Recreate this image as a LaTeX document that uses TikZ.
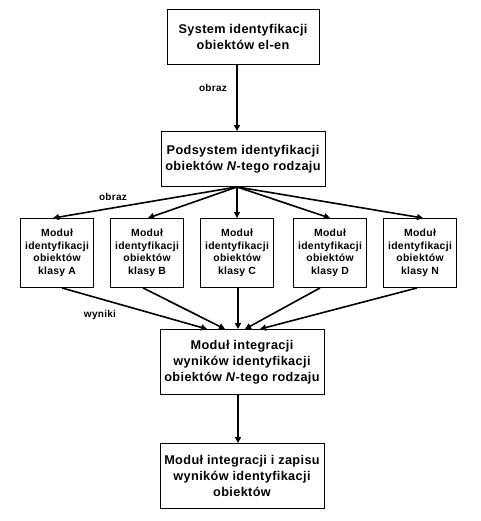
\documentclass[tikz,border=0pt]{standalone}
\usepackage{fontspec}
\setmainfont[LetterSpace=3]{Liberation Sans}
\usetikzlibrary{arrows.meta}
\tikzset{
    bigbox/.style={ % Boxes of the main chain
    draw, line width=0.9pt,
    minimum width=164pt, minimum height=55pt,
    inner sep=0pt, align=center,
    font=\fontsize{12.7}{16}\selectfont\bfseries},
    smallbox/.style={ % Class modules
    draw, line width=0.9pt,
    minimum width=73pt, minimum height=69pt,
    inner sep=0pt, align=center,
    font=\fontsize{10.4}{12.6}\selectfont\bfseries},
    arr/.style={ % Connectors
    line width=1.6pt,
    -{Triangle[length=6pt,width=6pt]}},
    lbl/.style={font=\fontsize{10}{12}\selectfont\bfseries}}

\begin{document}
\begin{tikzpicture}[x=1pt, y=-1pt]
        \useasboundingbox (0,0) rectangle (480,521);

        % Main chain
        \node[bigbox, minimum width=152pt] (sys) at (243,37) {System identyfikacji\\obiektów el-en};
        \node[bigbox] (pod) at (243,159) {Podsystem identyfikacji\\obiektów \textit{N}-tego rodzaju};

        % Class modules
        \foreach \x/\k in {57/A, 147/B, 237/C, 330/D, 420/N} {
                \node[smallbox] (mod\k) at (\x,253) {Moduł\\identyfikacji\\obiektów\\klasy \k};
            }

        \node[bigbox, minimum height=65pt] (integ) at (242,362) {Moduł integracji\\wyników identyfikacji\\obiektów \textit{N}-tego rodzaju};
        \node[bigbox, minimum height=65pt] (zapis) at (242,476) {Moduł integracji i zapisu\\wyników identyfikacji\\obiektów};

        % Connectors
        \draw[arr] ([xshift=-6pt]sys.south) -- ([xshift=-6pt]pod.north);
        \node[lbl] (obraz1) at (213,88) {obraz};

        \draw[arr] ([xshift=-6pt]pod.south) -- ([xshift=-4pt]modA.north);
        \draw[arr] ([xshift=-6pt]pod.south) -- ([xshift=1pt]modB.north);
        \draw[arr] ([xshift=-6pt]pod.south) -- (modC.north);
        \draw[arr] ([xshift=-6pt]pod.south) -- (modD.north);
        \draw[arr] ([xshift=-6pt]pod.south) -- ([xshift=3pt]modN.north);
        \node[lbl] (obraz2) at (113,197) {obraz};

        \draw[arr] ([xshift=5pt]modA.south) -- ([xshift=-35pt]integ.north);
        \draw[arr] ([xshift=-4pt]modB.south) -- ([xshift=-17pt]integ.north);
        \draw[arr] ([xshift=1pt]modC.south) -- ([xshift=-4pt]integ.north);
        \draw[arr] ([xshift=-10pt]modD.south) -- ([xshift=3pt]integ.north);
        \draw[arr] ([xshift=-3pt]modN.south) -- ([xshift=18pt]integ.north);
        \node[lbl] (wyniki) at (100,315) {wyniki};

        \draw[arr] ([xshift=-4pt]integ.south) -- ([xshift=-4pt]zapis.north);

    \end{tikzpicture}
\end{document}
